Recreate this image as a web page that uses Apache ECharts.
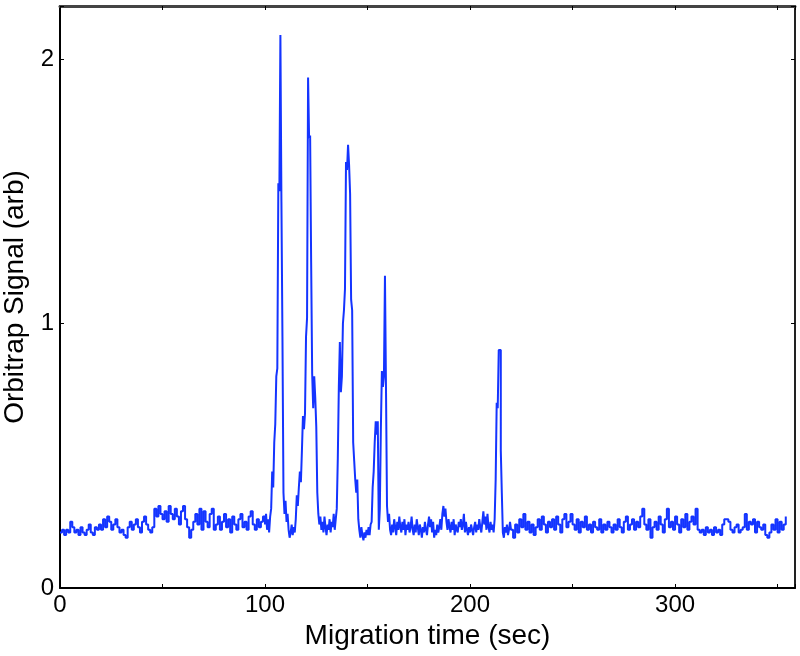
<!DOCTYPE html>
<html>
<head>
<meta charset="utf-8">
<script src="https://cdn.jsdelivr.net/npm/echarts@6/dist/echarts.min.js"></script>
<style>html,body{margin:0;padding:0;background:#fff}#c{width:800px;height:656px}</style>
</head>
<body>
<div id="c"></div>
<script>
// Segment 1: t = 0..99 s, 1 s step
const seg1Start = 0, seg1Step = 1;
const seg1 = [
0.21,0.22,0.20,0.22,0.21,0.25,0.23,0.21,0.22,0.20,
0.23,0.21,0.20,0.22,0.24,0.21,0.20,0.23,0.22,0.24,
0.22,0.26,0.23,0.27,0.25,0.22,0.24,0.26,0.23,0.21,
0.22,0.20,0.19,0.23,0.25,0.22,0.24,0.26,0.23,0.21,
0.25,0.27,0.24,0.22,0.21,0.23,0.30,0.27,0.31,0.28,
0.26,0.29,0.25,0.31,0.28,0.26,0.30,0.27,0.24,0.29,
0.31,0.26,0.23,0.19,0.22,0.25,0.28,0.24,0.30,0.22,
0.29,0.25,0.23,0.28,0.30,0.22,0.24,0.27,0.22,0.25,
0.28,0.23,0.26,0.21,0.27,0.24,0.22,0.26,0.28,0.23,
0.25,0.22,0.27,0.29,0.24,0.22,0.26,0.23,0.25,0.27
];
// Segment 2: t = 100..219.5 s, 0.5 s step (peak region)
const seg2Start = 100, seg2Step = 0.5;
const seg2 = [
0.24,0.28,0.22,0.26,0.21,0.27,0.30,0.44,0.38,0.55,
0.62,0.80,0.83,1.53,1.50,2.09,1.46,0.95,0.36,0.28,
0.33,0.25,0.28,0.22,0.19,0.21,0.24,0.20,0.23,0.21,
0.26,0.35,0.31,0.38,0.44,0.40,0.52,0.65,0.60,0.66,
0.95,1.02,1.93,1.70,1.71,1.23,0.81,0.68,0.80,0.72,
0.61,0.36,0.28,0.24,0.27,0.22,0.25,0.21,0.27,0.23,
0.20,0.24,0.22,0.26,0.21,0.25,0.23,0.28,0.22,0.26,
0.30,0.49,0.76,0.93,0.74,0.80,1.00,1.05,1.13,1.61,
1.58,1.675,1.60,1.49,1.09,1.05,0.55,0.48,0.41,0.36,
0.41,0.26,0.22,0.19,0.23,0.20,0.18,0.21,0.19,0.22,
0.20,0.23,0.20,0.24,0.25,0.38,0.44,0.55,0.63,0.58,
0.63,0.22,0.30,0.60,0.82,0.76,0.80,1.18,0.76,0.31,
0.25,0.28,0.22,0.20,0.24,0.21,0.26,0.23,0.20,0.25,
0.22,0.27,0.23,0.21,0.25,0.22,0.26,0.20,0.24,0.22,
0.25,0.21,0.23,0.27,0.22,0.20,0.24,0.21,0.26,0.23,
0.20,0.24,0.22,0.19,0.23,0.21,0.25,0.22,0.20,0.24,
0.27,0.23,0.26,0.21,0.25,0.19,0.22,0.20,0.24,0.21,
0.23,0.26,0.22,0.28,0.31,0.27,0.30,0.25,0.22,0.26,
0.23,0.21,0.25,0.22,0.26,0.20,0.24,0.22,0.21,0.25,
0.23,0.26,0.22,0.24,0.28,0.21,0.25,0.22,0.20,0.23,
0.21,0.24,0.22,0.20,0.23,0.25,0.21,0.24,0.22,0.26,
0.23,0.21,0.25,0.29,0.24,0.27,0.22,0.28,0.23,0.21,
0.25,0.22,0.24,0.21,0.26,0.41,0.70,0.68,0.90,0.90,
0.52,0.36,0.21,0.19,0.23,0.21,0.24,0.20,0.22,0.25
];
// Segment 3: t = 220..354 s, 1 s step
const seg3Start = 220, seg3Step = 1;
const seg3 = [
0.22,0.19,0.24,0.21,0.26,0.23,0.28,0.22,0.25,0.21,
0.24,0.20,0.23,0.26,0.22,0.27,0.24,0.21,0.25,0.23,
0.26,0.22,0.27,0.24,0.21,0.26,0.28,0.23,0.25,0.28,
0.24,0.22,0.26,0.21,0.25,0.23,0.27,0.22,0.24,0.21,
0.25,0.23,0.22,0.26,0.21,0.24,0.22,0.25,0.23,0.21,
0.24,0.22,0.26,0.23,0.21,0.25,0.27,0.22,0.24,0.26,
0.22,0.25,0.23,0.27,0.30,0.24,0.22,0.26,0.19,0.23,
0.25,0.22,0.27,0.24,0.21,0.26,0.30,0.23,0.25,0.22,
0.27,0.24,0.21,0.26,0.23,0.28,0.22,0.25,0.27,0.24,
0.30,0.22,0.21,0.22,0.20,0.23,0.21,0.22,0.20,0.23,
0.21,0.22,0.20,0.24,0.26,0.26,0.25,0.22,0.21,0.23,
0.24,0.21,0.22,0.23,0.28,0.22,0.25,0.24,0.26,0.21,
0.25,0.23,0.22,0.24,0.20,0.19,0.21,0.24,0.22,0.26,
0.21,0.25,0.22,0.24,0.27
];
const xTickLabels = [0, 100, 200, 300];
const yTickLabels = [0, 1, 2];

const data = [];
[[seg1Start, seg1Step, seg1], [seg2Start, seg2Step, seg2], [seg3Start, seg3Step, seg3]].forEach(([s, st, arr]) => {
  arr.forEach((v, i) => data.push([s + i * st, v]));
});

const FONT = '"Liberation Sans", Arial, Helvetica, sans-serif';
const chart = echarts.init(document.getElementById('c'), null, {renderer: 'canvas'});
chart.setOption({
  animation: false,
  grid: {left: 60, right: 5, top: 6, bottom: 68, containLabel: false, outerBoundsMode: 'none'},
  xAxis: [{
    type: 'value', min: 0, max: 358.5, interval: 50, position: 'bottom',
    name: 'Migration time (sec)', nameLocation: 'middle', nameGap: 33,
    nameTextStyle: {fontFamily: FONT, fontSize: 28, color: '#000'},
    axisLine: {show: true, onZero: false, lineStyle: {color: '#000', width: 2}},
    axisTick: {show: true, inside: true, length: 4, lineStyle: {color: '#000', width: 1}},
    axisLabel: {fontFamily: FONT, fontSize: 24, color: '#000', margin: 5,
      formatter: v => xTickLabels.includes(v) ? String(v) : ''},
    splitLine: {show: false}
  }, {
    type: 'value', min: 0, max: 358.5, interval: 50, position: 'top',
    axisLine: {show: true, onZero: false, lineStyle: {color: '#444', width: 3}},
    axisTick: {show: true, inside: true, length: 4, lineStyle: {color: '#000', width: 1}},
    axisLabel: {show: false}, splitLine: {show: false}
  }],
  yAxis: [{
    type: 'value', min: 0, max: 2.2, interval: 1, position: 'left',
    name: 'Orbitrap Signal (arb)', nameLocation: 'middle', nameGap: 24,
    nameTextStyle: {fontFamily: FONT, fontSize: 28, color: '#000'},
    axisLine: {show: true, onZero: false, lineStyle: {color: '#000', width: 2}},
    axisTick: {show: true, inside: true, length: 4, lineStyle: {color: '#000', width: 1}},
    axisLabel: {fontFamily: FONT, fontSize: 24, color: '#000', margin: 6,
      formatter: v => yTickLabels.includes(v) ? String(v) : ''},
    splitLine: {show: false}
  }, {
    type: 'value', min: 0, max: 2.2, interval: 1, position: 'right',
    axisLine: {show: true, onZero: false, lineStyle: {color: '#222', width: 2}},
    axisTick: {show: true, inside: true, length: 4, lineStyle: {color: '#000', width: 1}},
    axisLabel: {show: false}, splitLine: {show: false}
  }],
  series: [{
    type: 'line', data: data, step: 'end', showSymbol: false, symbol: 'none',
    lineStyle: {color: '#1434ff', width: 2}, itemStyle: {color: '#1434ff'}
  }]
});
</script>
</body>
</html>
